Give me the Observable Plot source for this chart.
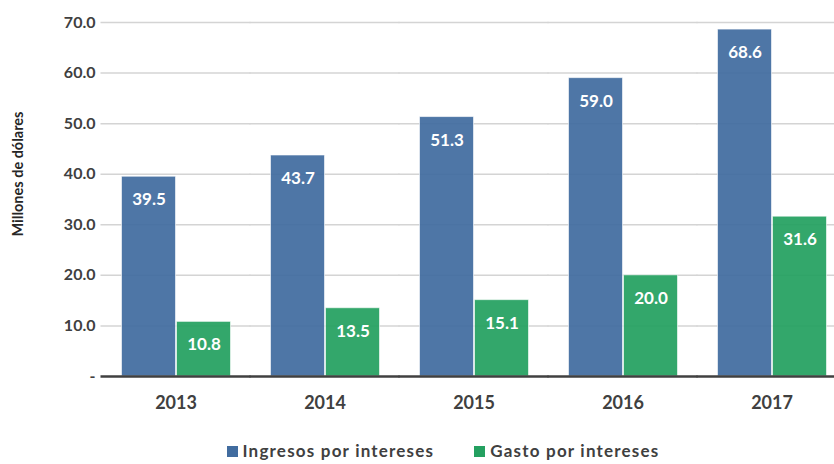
<!DOCTYPE html>
<html>
<head>
<meta charset="utf-8">
<script src="https://cdn.jsdelivr.net/npm/d3@7"></script>
<script src="https://cdn.jsdelivr.net/npm/@observablehq/plot@0.6"></script>
<style>
  body { margin: 0; background: #fff; font-family: Lato, "Open Sans", sans-serif; }
  #wrap { position: relative; width: 834px; }
  #ytitle { position: absolute; left: 17px; top: 174px; transform: translate(-50%, -50%) rotate(-90deg);
    white-space: nowrap; font-weight: bold; font-size: 14.5px; color: #262626; }
  #legend { display: flex; justify-content: center; gap: 40px; height: 21px; padding-top: 15px; align-items: center;
    font-weight: bold; font-size: 17px; color: #404040; letter-spacing: 1.2px; padding-left: 52px; width: 782px; }
  #legend span.sw { display: inline-block; width: 11px; height: 11px; margin-right: 5px; vertical-align: 0px; }
</style>
</head>
<body>
<div id="wrap">
  <div id="chart"></div>
  <div id="ytitle">Millones de dólares</div>
</div>
<div id="legend"></div>
<script>
const years = ["2013", "2014", "2015", "2016", "2017"];
const series = ["Ingresos por intereses", "Gasto por intereses"];
const ingresos = [39.5, 43.7, 51.3, 59.0, 68.6];
const gasto = [10.8, 13.5, 15.1, 20.0, 31.6];
const yTicks = [0, 10, 20, 30, 40, 50, 60, 70];
const colors = ["#416c9f", "#24a060"];

const data = [];
years.forEach((yr, i) => {
  data.push({year: yr, series: series[0], value: ingresos[i]});
  data.push({year: yr, series: series[1], value: gasto[i]});
});

const fmt = d => d === 0 ? "-" : d.toFixed(1);

const chart = Plot.plot({
  width: 834,
  height: 425,
  marginLeft: 101,
  marginRight: -12,
  marginTop: 22,
  marginBottom: 49,
  style: {fontFamily: "Lato, 'Open Sans', sans-serif", color: "#404040", background: "#fff"},
  fx: {domain: years, paddingInner: 0.255, paddingOuter: 0.1275, label: null},
  x: {domain: series, padding: 0, axis: null},
  y: {domain: [0, 70], label: null},
  color: {domain: series, range: colors},
  marks: [
    Plot.ruleY(yTicks.filter(d => d > 0), {stroke: "#d4d4d4", strokeWidth: 1.5, insetLeft: -19.5, insetRight: -19.5}),
    Plot.barY(data, {fx: "year", x: "series", y: "value", fill: "series", fillOpacity: 0.93,
      stroke: "#ffffff", strokeOpacity: 0.6, strokeWidth: 1, insetLeft: 0.5, insetRight: 0.5}),
    Plot.text(data, {fx: "year", x: "series", y: "value", text: d => d.value.toFixed(1), dy: 23,
      fill: "white", fontWeight: "bold", fontSize: 17}),
    Plot.ruleY([0], {stroke: "#404040", strokeWidth: 2.5, insetLeft: -19.5, insetRight: -19.5}),
    Plot.axisY(yTicks, {tickSize: 0, tickPadding: 25, tickFormat: fmt, fontSize: 16, fontWeight: "bold", fill: "#404040", label: null}),
    Plot.axisFx({anchor: "bottom", tickSize: 0, tickPadding: 20, fontSize: 18, fontWeight: "bold", fill: "#404040", label: null})
  ]
});
document.getElementById("chart").appendChild(chart);

const legend = document.getElementById("legend");
series.forEach((s, i) => {
  const item = document.createElement("div");
  const sw = document.createElement("span");
  sw.className = "sw";
  sw.style.background = colors[i];
  item.appendChild(sw);
  item.appendChild(document.createTextNode(s));
  legend.appendChild(item);
});
</script>
</body>
</html>
